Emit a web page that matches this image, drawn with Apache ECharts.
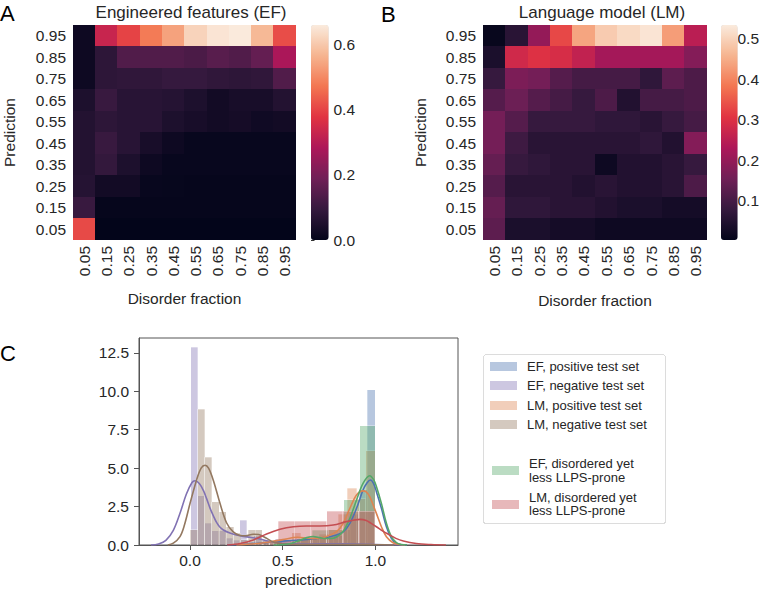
<!DOCTYPE html>
<html><head><meta charset="utf-8">
<script src="https://cdn.jsdelivr.net/npm/echarts@6/dist/echarts.min.js"></script>
<style>html,body{margin:0;padding:0;background:#fff}#c{width:762px;height:590px}
#c svg path:not([fill="none"]){shape-rendering:crispEdges}</style>
</head><body><div id="c"></div>
<script>
// ---------- Heatmap data ----------
const heatCats = ['0.05','0.15','0.25','0.35','0.45','0.55','0.65','0.75','0.85','0.95'];
// rows listed top (0.95) to bottom (0.05); columns disorder fraction 0.05 .. 0.95
const efRows = [
  [0.02,0.33,0.40,0.48,0.54,0.62,0.65,0.66,0.575,0.415],
  [0.02,0.08,0.14,0.14,0.14,0.13,0.15,0.14,0.17,0.28],
  [0.02,0.08,0.085,0.085,0.095,0.095,0.085,0.08,0.085,0.14],
  [0.05,0.10,0.07,0.07,0.065,0.05,0.03,0.04,0.04,0.06],
  [0.06,0.08,0.07,0.07,0.05,0.04,0.03,0.035,0.025,0.03],
  [0.06,0.10,0.07,0.04,0.02,0.01,0.01,0.01,0.01,0.01],
  [0.06,0.09,0.05,0.02,0.01,0.01,0.01,0.01,0.01,0.01],
  [0.065,0.03,0.03,0.01,0.008,0.005,0.005,0.005,0.005,0.005],
  [0.10,0.005,0.005,0.005,0.005,0.005,0.005,0.005,0.005,0.005],
  [0.41,0.0,0.0,0.0,0.0,0.0,0.0,0.0,0.0,0.0]
];
const lmRows = [
  [0.01,0.06,0.20,0.33,0.44,0.49,0.51,0.525,0.43,0.25],
  [0.04,0.28,0.30,0.29,0.26,0.22,0.22,0.22,0.22,0.18],
  [0.08,0.17,0.16,0.12,0.10,0.10,0.10,0.07,0.13,0.11],
  [0.12,0.15,0.12,0.10,0.08,0.11,0.05,0.10,0.10,0.11],
  [0.16,0.12,0.08,0.08,0.08,0.07,0.07,0.06,0.08,0.10],
  [0.16,0.09,0.06,0.06,0.06,0.06,0.06,0.07,0.05,0.18],
  [0.14,0.08,0.07,0.06,0.06,0.02,0.05,0.05,0.06,0.08],
  [0.12,0.06,0.06,0.06,0.05,0.06,0.05,0.05,0.06,0.11],
  [0.14,0.07,0.07,0.06,0.06,0.05,0.04,0.04,0.03,0.03],
  [0.13,0.04,0.04,0.03,0.03,0.02,0.02,0.02,0.02,0.02]
];
const efBarMin = 0, efBarMax = 0.6615, efBarTicks = [0,0.2,0.4,0.6];
const lmBarMin = 0.003, lmBarMax = 0.534, lmBarTicks = [0.1,0.2,0.3,0.4,0.5];

// ---------- Histogram data (panel C): [binStart, binEnd, density] ----------
const efPosHist = [[0.325,0.37,0.1],[0.37,0.415,0.15],[0.415,0.46,0.2],[0.46,0.505,0.35],[0.505,0.55,0.3],[0.55,0.595,0.3],[0.595,0.64,0.35],[0.64,0.685,0.4],[0.685,0.73,0.45],[0.73,0.775,0.5],[0.775,0.82,0.6],[0.82,0.865,1.0],[0.865,0.91,2.0],[0.91,0.955,3.6],[0.955,1.0,10.09]];
const efNegHist = [[0.004,0.041,12.87],[0.041,0.079,3.19],[0.079,0.117,1.4],[0.117,0.155,0.93],[0.155,0.193,0.93],[0.193,0.231,0.45],[0.231,0.269,0.3],[0.269,0.307,1.6],[0.307,0.345,0.2],[0.345,0.383,0.6],[0.383,0.421,0.3],[0.421,0.459,0.1],[0.459,0.497,0.4]];
const lmPosHist = [[0.298,0.348,0.1],[0.348,0.398,0.15],[0.398,0.448,0.2],[0.448,0.498,0.3],[0.498,0.548,0.35],[0.548,0.598,0.8],[0.598,0.648,0.45],[0.648,0.698,0.5],[0.698,0.748,0.7],[0.748,0.798,1.0],[0.798,0.848,2.0],[0.848,0.898,3.69],[0.898,0.948,3.0],[0.948,0.998,6.14]];
const lmNegHist = [[0.002,0.041,1.0],[0.041,0.08,8.83],[0.08,0.118,5.71],[0.118,0.157,2.82],[0.157,0.196,2.15],[0.196,0.235,1.19],[0.235,0.274,0.76],[0.274,0.313,0.35],[0.313,0.352,0.98],[0.352,0.39,0.98],[0.39,0.43,0.3],[0.43,0.469,0.15],[0.469,0.508,0.1]];
const efDisHist = [[0.49,0.575,0.15],[0.575,0.66,0.4],[0.66,0.745,0.95],[0.745,0.83,1.0],[0.83,0.915,2.93],[0.915,1.0,7.77]];
const lmDisHist = [[0.476,0.563,1.56],[0.563,0.649,1.56],[0.649,0.736,1.56],[0.736,0.822,2.21],[0.822,0.909,2.21],[0.909,0.995,2.21]];

// ---------- KDE curves (panel C): [x, density] ----------
const efPosKde = [[0.2,0],[0.3,0.05],[0.4,0.15],[0.5,0.25],[0.6,0.33],[0.646,0.37],[0.682,0.43],[0.72,0.48],[0.754,0.54],[0.79,0.65],[0.826,0.85],[0.862,1.41],[0.898,2.39],[0.933,3.58],[0.955,4.05],[0.973,4.23],[0.99,4.0],[1.005,3.47],[1.032,2.39],[1.059,1.19],[1.086,0.43],[1.113,0.1],[1.14,0.02],[1.17,0]];
const efNegKde = [[-0.21,0],[-0.17,0.07],[-0.13,0.3],[-0.09,0.95],[-0.054,2.06],[-0.02,3.3],[0.01,4.05],[0.027,4.18],[0.05,4.0],[0.072,3.55],[0.09,3.0],[0.108,2.4],[0.126,1.9],[0.144,1.45],[0.162,1.15],[0.18,0.98],[0.215,0.78],[0.25,0.65],[0.29,0.56],[0.323,0.5],[0.377,0.39],[0.43,0.22],[0.485,0.12],[0.55,0.07],[0.65,0.06],[0.75,0.08],[0.85,0.07],[0.95,0.05],[1.05,0.02],[1.15,0]];
const lmPosKde = [[0.25,0],[0.35,0.08],[0.43,0.2],[0.5,0.35],[0.58,0.5],[0.63,0.45],[0.67,0.42],[0.7,0.45],[0.736,0.56],[0.79,0.87],[0.826,1.41],[0.862,2.39],[0.898,3.26],[0.933,3.52],[0.95,3.45],[0.969,3.15],[1.005,2.06],[1.032,1.19],[1.059,0.54],[1.095,0.15],[1.13,0.03],[1.16,0]];
const lmNegKde = [[-0.12,0],[-0.09,0.12],[-0.054,0.55],[-0.03,1.3],[0.0,2.7],[0.036,4.25],[0.06,5.0],[0.081,5.19],[0.1,5.0],[0.126,4.2],[0.162,2.7],[0.197,1.45],[0.233,0.85],[0.27,0.62],[0.3,0.6],[0.34,0.7],[0.37,0.68],[0.41,0.45],[0.45,0.2],[0.5,0.08],[0.6,0.03],[0.8,0.03],[1.0,0.02],[1.1,0]];
const efDisKde = [[0.45,0],[0.52,0.05],[0.58,0.25],[0.63,0.48],[0.665,0.55],[0.7,0.48],[0.73,0.42],[0.76,0.42],[0.79,0.52],[0.826,0.9],[0.862,1.74],[0.898,2.93],[0.933,4.01],[0.969,4.51],[0.99,4.25],[1.005,3.8],[1.032,2.71],[1.059,1.41],[1.086,0.54],[1.113,0.15],[1.14,0.03],[1.17,0]];
const lmDisKde = [[0.2,0],[0.27,0.1],[0.341,0.33],[0.413,0.72],[0.485,1.02],[0.557,1.19],[0.628,1.24],[0.7,1.24],[0.772,1.3],[0.844,1.52],[0.916,1.67],[0.95,1.6],[0.975,1.42],[1.005,1.19],[1.04,0.9],[1.077,0.65],[1.11,0.43],[1.15,0.26],[1.22,0.1],[1.3,0.03],[1.38,0]];
const xTicksC = [0, 0.5, 1.0];
const yTicksC = [0, 2.5, 5, 7.5, 10, 12.5];

// ---------- build ----------
const FONT = 'Liberation Sans, Arial, Helvetica, sans-serif';
const TXT = '#262626';
const rocket = ['#03051a','#35193e','#701f57','#ad1759','#e13342','#f37651','#f6b48f','#faebdd'];

function toHeat(rows){
  const out = [];
  rows.forEach((row, r) => row.forEach((v, c) => out.push([c, rows.length - 1 - r, v])));
  return out;
}

function heatAxes(gi){
  return {
    x: {type:'category', gridIndex:gi, data:heatCats, axisLine:{show:false}, axisTick:{show:false}, splitLine:{show:false},
        axisLabel:{rotate:90, fontSize:15.5, color:TXT, fontFamily:FONT, margin:6},
        name:'Disorder fraction', nameLocation:'middle', nameGap:50, nameTextStyle:{fontSize:15.5, color:TXT, fontFamily:FONT}},
    y: {type:'category', gridIndex:gi, data:heatCats, axisLine:{show:false}, axisTick:{show:false}, splitLine:{show:false},
        axisLabel:{fontSize:15.5, color:TXT, fontFamily:FONT, margin:7},
        name:'Prediction', nameLocation:'middle', nameRotate:90, nameGap:56, nameTextStyle:{fontSize:15.5, color:TXT, fontFamily:FONT}}
  };
}
function cbarAxes(gi, mn, mx, ticks){
  return {
    x: {type:'value', gridIndex:gi, show:false, min:0, max:1},
    y: {type:'value', gridIndex:gi, position:'right', min:mn, max:mx, splitLine:{show:false}, axisLine:{show:false},
        axisTick:{show:true, customValues:ticks, length:3.5, lineStyle:{color:'#333'}},
        axisLabel:{customValues:ticks, formatter:v=>v.toFixed(1), fontSize:15.5, color:TXT, fontFamily:FONT, margin:5}}
  };
}
const hA = heatAxes(0), hB = heatAxes(1);
const cA = cbarAxes(2, efBarMin, efBarMax, efBarTicks), cB = cbarAxes(3, lmBarMin, lmBarMax, lmBarTicks);
hB.y.nameGap = 55;
hB.x.nameGap = 52;

const xC = {type:'value', gridIndex:4, min:-0.275, max:1.445, splitLine:{show:false},
  axisLine:{show:true, onZero:false, lineStyle:{color:'#555'}},
  axisTick:{show:true, customValues:xTicksC, length:5, lineStyle:{color:'#555'}},
  axisLabel:{customValues:xTicksC, formatter:v=>v.toFixed(1), fontSize:15.5, color:TXT, fontFamily:FONT, margin:7},
  name:'prediction', nameLocation:'middle', nameGap:26, nameTextStyle:{fontSize:15.5, color:TXT, fontFamily:FONT}};
const yC = {type:'value', gridIndex:4, min:0, max:13.47, splitLine:{show:false},
  axisLine:{show:true, onZero:false, lineStyle:{color:'#555'}},
  axisTick:{show:true, customValues:yTicksC, length:5, lineStyle:{color:'#555'}},
  axisLabel:{customValues:yTicksC, formatter:v=>v.toFixed(1), fontSize:15.5, color:TXT, fontFamily:FONT, margin:10}};

const groups = [
  ['EF, positive test set', efPosHist, efPosKde, '#4c72b0'],
  ['EF, negative test set', efNegHist, efNegKde, '#8172b3'],
  ['LM, positive test set', lmPosHist, lmPosKde, '#dd8452'],
  ['LM, negative test set', lmNegHist, lmNegKde, '#937860'],
  ['EF, disordered yet\nless LLPS-prone', efDisHist, efDisKde, '#55a868'],
  ['LM, disordered yet\nless LLPS-prone', lmDisHist, lmDisKde, '#c44e52']
];
function rgba(hex, a){
  const n = parseInt(hex.slice(1),16);
  return `rgba(${(n>>16)&255},${(n>>8)&255},${n&255},${a})`;
}
const cSeries = [];
groups.forEach(([name, hist, kde, col]) => {
  cSeries.push({
    type:'custom', name, xAxisIndex:4, yAxisIndex:4, data:hist, clip:true,
    encode:{x:[0,1], y:2}, itemStyle:{color:rgba(col,0.4)},
    renderItem:(params, api) => {
      const p0 = api.coord([api.value(0), api.value(2)]);
      const p1 = api.coord([api.value(1), 0]);
      return {type:'rect', shape:{x:p0[0], y:p0[1], width:p1[0]-p0[0], height:p1[1]-p0[1]},
        style:{fill:col, stroke:'#fff', lineWidth:0.8, opacity:0.4}};
    }
  });
  cSeries.push({
    type:'line', name: name + ' (kde)', xAxisIndex:4, yAxisIndex:4, data:kde, smooth:0.35,
    showSymbol:false, lineStyle:{color:col, width:1.6}, itemStyle:{color:col}, clip:true, silent:true
  });
});

const legendText = {fontSize:13, color:TXT, fontFamily:FONT, lineHeight:14, padding:[0,0,0,5]};
const option = {
  animation:false,
  backgroundColor:'#fff',
  grid:[
    {left:71, top:25, width:225, height:215},
    {left:483, top:25, width:224, height:215},
    {left:311, top:25, width:17.5, height:215},
    {left:721, top:25, width:16.5, height:215},
    {left:139, top:338, width:319, height:207, show:true, borderColor:'#555', borderWidth:1, backgroundColor:'transparent'}
  ],
  xAxis:[hA.x, hB.x, cA.x, cB.x, xC],
  yAxis:[hA.y, hB.y, cA.y, cB.y, yC],
  visualMap:[
    {type:'continuous', seriesIndex:0, min:efBarMin, max:efBarMax, orient:'vertical', left:311, top:25,
     itemWidth:17.5, itemHeight:215, calculable:false, padding:0, text:null, inRange:{color:rocket}, hoverLink:false},
    {type:'continuous', seriesIndex:1, min:lmBarMin, max:lmBarMax, orient:'vertical', left:721, top:25,
     itemWidth:16.5, itemHeight:215, calculable:false, padding:0, text:null, inRange:{color:rocket}, hoverLink:false}
  ],
  legend:[
    {data:groups.slice(0,4).map(g=>({name:g[0], itemStyle:{color:rgba(g[3],0.4)}})),
     orient:'vertical', left:490, top:359, itemWidth:27, itemHeight:9, itemGap:5.5, icon:'rect',
     selectedMode:false, padding:0, textStyle:legendText},
    {data:groups.slice(4).map(g=>({name:g[0], itemStyle:{color:rgba(g[3],0.4)}})),
     orient:'vertical', left:492, top:457, itemWidth:27, itemHeight:9, itemGap:6.6, icon:'rect',
     selectedMode:false, padding:0, textStyle:Object.assign({}, legendText, {lineHeight:13.5})}
  ],
  graphic:[
    {type:'rect', left:483, top:354, shape:{width:182, height:169, r:3}, style:{fill:'#fff', stroke:'#dcdcdc', lineWidth:1}, z:-1},
    {type:'text', x:0, y:13, style:{text:'A', fontSize:22, fontFamily:FONT, fill:'#000', verticalAlign:'middle'}},
    {type:'text', x:381, y:14, style:{text:'B', fontSize:22, fontFamily:FONT, fill:'#000', verticalAlign:'middle'}},
    {type:'text', x:0, y:353, style:{text:'C', fontSize:22, fontFamily:FONT, fill:'#000', verticalAlign:'middle'}},
    {type:'text', x:191, y:12, style:{text:'Engineered features (EF)', fontSize:17, fontFamily:FONT, fill:TXT, align:'center', verticalAlign:'middle'}},
    {type:'text', x:602, y:12, style:{text:'Language model (LM)', fontSize:17, fontFamily:FONT, fill:TXT, align:'center', verticalAlign:'middle'}}
  ],
  series:[
    {type:'heatmap', xAxisIndex:0, yAxisIndex:0, data:toHeat(efRows), emphasis:{disabled:true}, silent:true},
    {type:'heatmap', xAxisIndex:1, yAxisIndex:1, data:toHeat(lmRows), emphasis:{disabled:true}, silent:true}
  ].concat(cSeries)
};
const chart = echarts.init(document.getElementById('c'), null, {renderer:'svg'});
chart.setOption(option);
</script></body></html>
